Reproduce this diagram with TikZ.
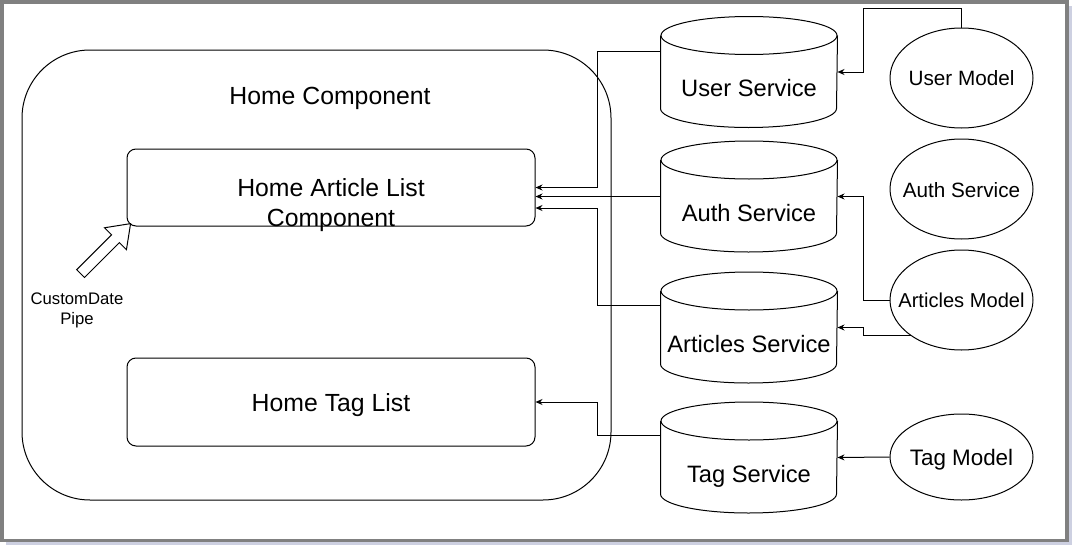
\documentclass[tikz,border=0pt]{standalone}
\usepackage{fontspec}
\setmainfont{Liberation Sans}
\usepackage{tikz}
\usetikzlibrary{arrows.meta,shapes.geometric,shapes.arrows}
\newcommand{\titlesize}{\fontsize{24.8pt}{30pt}\selectfont}
\newcommand{\svcsize}{\fontsize{23.7pt}{28pt}\selectfont}
\newcommand{\modelsize}{\fontsize{20.7pt}{25pt}\selectfont}
\newcommand{\pipesize}{\fontsize{16.7pt}{20pt}\selectfont}
\definecolor{framegray}{RGB}{128,128,128}
\definecolor{shadowblue}{RGB}{205,208,225}

\begin{document}
\begin{tikzpicture}[x=1pt, y=-1pt, line width=1pt, >={Stealth[length=7pt,width=6pt]}]
	\tikzstyle{every node} = [rectangle, inner sep=0pt]
	\tikzstyle{comp}    = [draw, rounded corners=9pt, minimum width=408pt]
	\tikzstyle{service} = [minimum width=176pt, minimum height=110pt]
	\tikzstyle{model}   = [ellipse, draw, minimum width=143pt, minimum height=100pt]
	\useasboundingbox (0,0) rectangle (1079,554);
	% frame
	\draw [shadowblue, line width=3pt] (1070,6) -- (1070,543.5) -- (6,543.5);
	\draw [framegray, line width=3.5pt] (1.75,1.75) rectangle (1067,540.5);
	% home component
	\node [draw, rounded corners=68pt, minimum width=589pt, minimum height=450pt] (home) at (316.5,275) {};
	\node [font=\titlesize] (hometitle) at (330,98) {Home Component};
	\node [comp, minimum height=77pt, label={[font=\titlesize, align=center, yshift=-18pt]center:Home Article List\\Component}] (hal) at (331,187.5) {};
	\node [comp, minimum height=88pt, label={[font=\titlesize, yshift=-3pt]center:Home Tag List}] (htl) at (331,402) {};
	\node [font=\pipesize, align=center] (pipe) at (77,310.5) {CustomDate\\Pipe};
	\node [single arrow, draw, fill=white, inner sep=5pt, minimum height=70.7pt, single arrow head extend=10pt, single arrow tip angle=72, rotate=45] (pipearrow) at (102.9,251.3) {};
	% services
	\node [service, label={[font=\svcsize, yshift=-16.5pt]center:User Service}]     (user)     at (749,72) {};
	\node [service, label={[font=\svcsize, yshift=-16.5pt]center:Auth Service}]     (auth)     at (749,196.5) {};
	\node [service, label={[font=\svcsize, yshift=-16.5pt]center:Articles Service}] (articles) at (749,327.5) {};
	\node [service, label={[font=\svcsize, yshift=-18.5pt]center:Tag Service}]      (tag)      at (749,457.5) {};
	\foreach \s in {user,auth,articles,tag} {
		\draw ([yshift=-19pt]\s.north west) -- ([yshift=19pt]\s.south west)
			arc [start angle=180, end angle=360, x radius=88pt, y radius=19pt]
			-- ([yshift=-19pt]\s.north east);
		\draw ([yshift=-19pt]\s.north) ellipse [x radius=88pt, y radius=19pt];
	}
	% models
	\node [model, label={[font=\modelsize]center:User Model}]   (umodel)    at (961.5,78) {};
	\node [model, label={[font=\modelsize, yshift=-1pt]center:Auth Service}] (authmodel) at (961.5,189) {};
	\node [model, label={[font=\fontsize{20.1pt}{24pt}\selectfont]center:Articles Model}] (amodel) at (961.5,300) {};
	\node [model, minimum height=86pt, label={[font=\fontsize{22.4pt}{27pt}\selectfont, yshift=-2.5pt]center:Tag Model}] (tmodel) at (961.5,457) {};
	% connectors
	\coordinate (busL)  at (597,0);
	\coordinate (busR)  at (863.5,0);
	\coordinate (umtop) at (961.5,8);
	\coordinate (hal3)  at ([yshift=-20.5pt]hal.east);
	\draw [->] ([yshift=21pt]user.west)     -| (busL |- hal.east) -- (hal.east);
	\draw [->] (auth.west)                  -- (auth.west -| hal.east);
	\draw [->] ([yshift=22pt]articles.west) -| (busL |- hal3) -- (hal3);
	\draw [->] ([yshift=22pt]tag.west)      -| (busL |- htl.east) -- (htl.east);
	\draw [->] (umodel.north) -- (umodel.north |- umtop) -| (busR |- user.east) -- (user.east);
	\draw [->] (amodel.west)  -| (busR |- auth.east) -- (auth.east);
	\draw [->] (amodel.215)   -| (busR |- articles.east) -- (articles.east);
	\draw [->] (tmodel.west)  -- (tag.east);
\end{tikzpicture}
\end{document}
